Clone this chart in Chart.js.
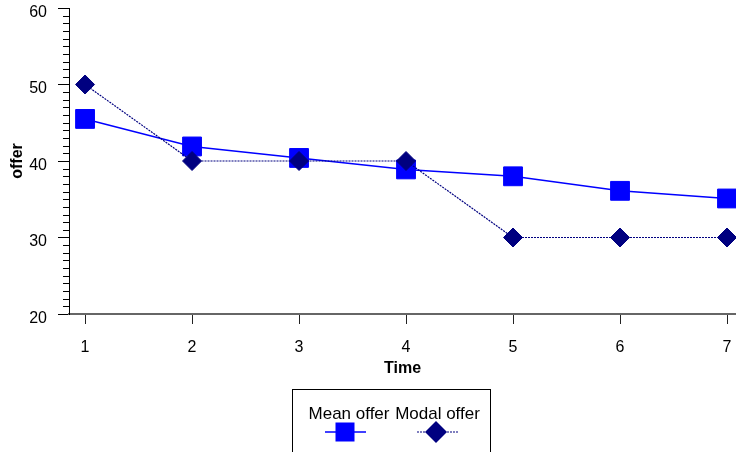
<!DOCTYPE html>
<html>
<head>
<meta charset="utf-8">
<style>
  html, body { margin: 0; padding: 0; background: #fff; }
  #wrap { width: 736px; height: 452px; }
</style>
<script src="https://cdn.jsdelivr.net/npm/chart.js@4/dist/chart.umd.min.js"></script>
</head>
<body>
<div id="wrap"><canvas id="offerChart" width="736" height="452"></canvas></div>
<script>
// Data
const times = [1, 2, 3, 4, 5, 6, 7];
const meanOffer = [45.5, 41.9, 40.4, 38.9, 38.0, 36.1, 35.1];
const modalOffer = [50, 40, 40, 40, 30, 30, 30];
const seriesNames = ["Mean offer", "Modal offer"];

const FONT = "'Liberation Sans', Arial, sans-serif";
const MEAN_COLOR = "#0000ff";
const MODAL_COLOR = "#000080";

// small left ticks every unit on the y axis
const minorTicks = {
  id: "minorTicks",
  afterDraw(chart) {
    const y = chart.scales.y;
    const ctx = chart.ctx;
    const x0 = chart.chartArea.left;
    ctx.save();
    ctx.strokeStyle = "#000";
    ctx.lineWidth = 1;
    for (let v = y.min + 1; v < y.max; v++) {
      if (v % 10 === 0) continue;
      const py = Math.round(y.getPixelForValue(v)) + 0.5;
      ctx.beginPath();
      ctx.moveTo(x0 - 6, py);
      ctx.lineTo(x0, py);
      ctx.stroke();
    }
    ctx.restore();
  },
};

// boxed legend below the plot, name on top and marker under it
const boxLegend = {
  id: "boxLegend",
  afterDraw(chart) {
    const ctx = chart.ctx;
    ctx.save();
    ctx.strokeStyle = "#000";
    ctx.lineWidth = 1;
    ctx.strokeRect(292.5, 389.5, 198, 80);

    ctx.fillStyle = "#000";
    ctx.font = "17px " + FONT;
    ctx.textAlign = "center";
    ctx.textBaseline = "middle";
    ctx.fillText(seriesNames[0], 349, 414);
    ctx.fillText(seriesNames[1], 437.5, 414);

    // mean offer sample
    ctx.strokeStyle = MEAN_COLOR;
    ctx.lineWidth = 1.5;
    ctx.beginPath();
    ctx.moveTo(325, 432);
    ctx.lineTo(366, 432);
    ctx.stroke();
    ctx.fillStyle = MEAN_COLOR;
    ctx.fillRect(335.5, 422.5, 19, 19);

    // modal offer sample
    ctx.strokeStyle = MODAL_COLOR;
    ctx.setLineDash([2, 1]);
    ctx.lineWidth = 1.2;
    ctx.beginPath();
    ctx.moveTo(417, 432);
    ctx.lineTo(458, 432);
    ctx.stroke();
    ctx.setLineDash([]);
    ctx.fillStyle = MODAL_COLOR;
    ctx.beginPath();
    ctx.moveTo(436 - 11, 432);
    ctx.lineTo(436, 432 - 11);
    ctx.lineTo(436 + 11, 432);
    ctx.lineTo(436, 432 + 11);
    ctx.closePath();
    ctx.fill();
    ctx.restore();
  },
};

new Chart(document.getElementById("offerChart"), {
  type: "line",
  data: {
    datasets: [
      {
        label: seriesNames[0],
        data: times.map((t, i) => ({ x: t, y: meanOffer[i] })),
        borderColor: MEAN_COLOR,
        backgroundColor: MEAN_COLOR,
        borderWidth: 1.5,
        pointStyle: "rect",
        pointRadius: 13.3,
        pointBorderWidth: 1,
        tension: 0,
        clip: false,
        order: 2,
      },
      {
        label: seriesNames[1],
        data: times.map((t, i) => ({ x: t, y: modalOffer[i] })),
        borderColor: MODAL_COLOR,
        backgroundColor: MODAL_COLOR,
        borderWidth: 1.2,
        borderDash: [2, 1],
        pointStyle: "rectRot",
        pointRadius: 9.5,
        pointBorderWidth: 1,
        tension: 0,
        clip: false,
        order: 1,
      },
    ],
  },
  options: {
    responsive: false,
    animation: false,
    events: [],
    layout: {
      autoPadding: false,
      padding: { top: 8, right: 0, bottom: 72, left: 0 },
    },
    plugins: {
      legend: { display: false },
      tooltip: { enabled: false },
    },
    scales: {
      x: {
        type: "linear",
        min: 0.85,
        max: 7.084,
        afterBuildTicks: (scale) => {
          scale.ticks = times.map((v) => ({ value: v }));
        },
        afterFit: (scale) => {
          scale.height = 66;
          scale.paddingLeft = 0;
          scale.paddingRight = 0;
        },
        border: { display: true, color: "#666", width: 2 },
        grid: {
          drawOnChartArea: false,
          drawTicks: true,
          tickLength: 10,
          color: "#222",
        },
        ticks: {
          color: "#000",
          padding: 16,
          maxRotation: 0,
          font: { family: FONT, size: 16, lineHeight: 1 },
        },
        title: {
          display: true,
          text: "Time",
          color: "#000",
          padding: { top: 0, bottom: 2 },
          font: { family: FONT, size: 16, weight: "bold", lineHeight: 1.2 },
        },
      },
      y: {
        min: 20,
        max: 60,
        afterFit: (scale) => {
          scale.width = 69;
          scale.paddingTop = 0;
          scale.paddingBottom = 0;
        },
        border: { display: true, color: "#000", width: 1 },
        grid: {
          drawOnChartArea: false,
          drawTicks: true,
          tickLength: 11,
          color: "#000",
        },
        ticks: {
          stepSize: 10,
          color: "#000",
          padding: 11,
          labelOffset: 4.5,
          font: { family: FONT, size: 16, lineHeight: 1 },
        },
        title: {
          display: true,
          text: "offer",
          color: "#000",
          padding: { top: 8, bottom: 0 },
          font: { family: FONT, size: 16, weight: "bold", lineHeight: 1.2 },
        },
      },
    },
  },
  plugins: [minorTicks, boxLegend],
});
</script>
</body>
</html>
